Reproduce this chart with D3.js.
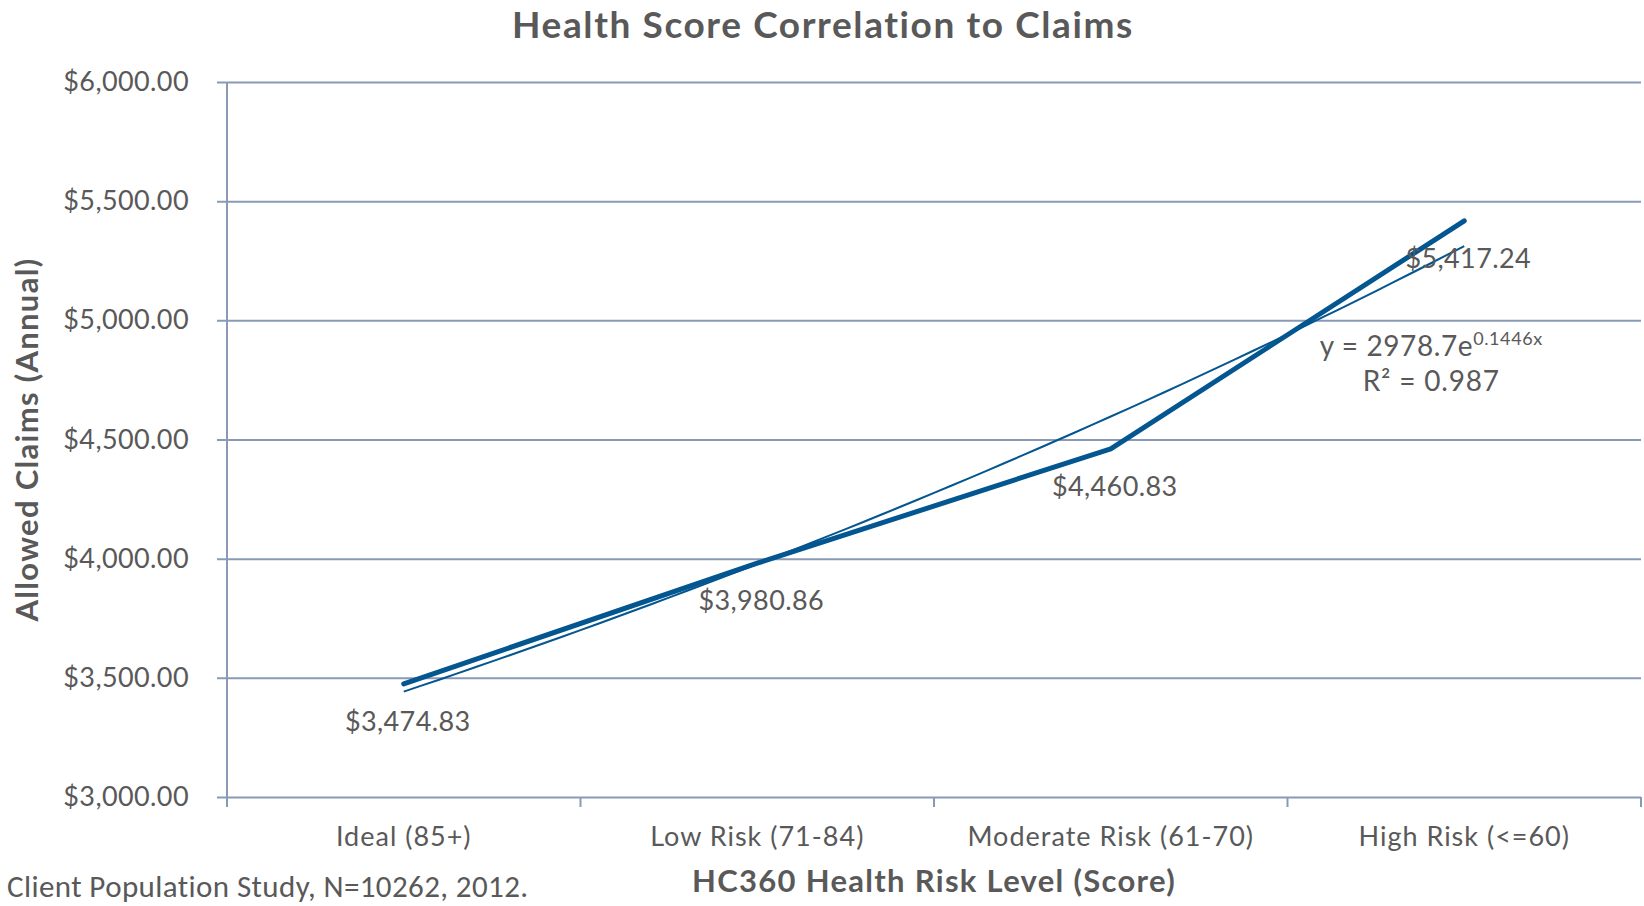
<!DOCTYPE html>
<html>
<head>
<meta charset="utf-8">
<script src="https://cdn.jsdelivr.net/npm/d3@7"></script>
<style>
  html, body { margin: 0; padding: 0; background: #fff; }
  svg text { fill: #595959; font-family: "Gill Sans", "Gill Sans MT", Lato, sans-serif; }
</style>
</head>
<body>
<svg id="chart" width="1644" height="906"></svg>
<script>
var categories = ['Ideal (85+)', 'Low Risk (71-84)', 'Moderate Risk (61-70)', 'High Risk (<=60)'];
var claims = [3474.83, 3980.86, 4460.83, 5417.24];
var yTicks = [3000, 3500, 4000, 4500, 5000, 5500, 6000];
// exponential trendline as printed on the chart: y = a * e^(b * x), x = 1..n
var trendA = 2978.7;
var trendB = 0.1446;
var trendLabel = ['y = 2978.7e', '0.1446x'];
var r2Label = 'R\u00b2 = 0.987';

var W = 1644, H = 906;
var margin = { top: 82, right: 3, bottom: 109, left: 227 };
var width = W - margin.left - margin.right;
var height = H - margin.top - margin.bottom;

var LINE = '#03568f';
var GRID = '#8a9ab6';

var svg = d3.select('#chart');
var g = svg.append('g').attr('transform', 'translate(' + margin.left + ',' + margin.top + ')');

var x = d3.scaleBand().domain(categories).range([0, width]).padding(0);
var y = d3.scaleLinear().domain([3000, 6000]).range([height, 0]);
var money = d3.format('$,.2f');

// y axis with gridlines
var yAxis = d3.axisLeft(y).tickValues(yTicks).tickFormat(money).tickSize(0).tickPadding(38);
var gy = g.append('g').call(yAxis);
gy.select('.domain').remove();
gy.selectAll('.tick line')
  .attr('x1', -10).attr('x2', width)
  .attr('stroke', GRID).attr('stroke-width', 2);
gy.selectAll('.tick text')
  .style('font-size', '27px').style('letter-spacing', '0.4px').attr('fill', '#595959');

// vertical axis line
g.append('line')
  .attr('x1', 0).attr('x2', 0).attr('y1', 0).attr('y2', height + 10)
  .attr('stroke', GRID).attr('stroke-width', 2);

// x axis: labels at band centres, ticks at band edges
var xAxis = d3.axisBottom(x).tickSize(0).tickPadding(30);
var gx = g.append('g').attr('transform', 'translate(0,' + height + ')').call(xAxis);
gx.select('.domain').remove();
gx.selectAll('.tick text')
  .style('font-size', '27px').style('letter-spacing', '1px').attr('fill', '#595959');
var edges = categories.map(function (c) { return x(c); }).concat([width]);
gx.selectAll('.edge').data(edges).enter().append('line')
  .attr('class', 'edge')
  .attr('x1', function (d) { return d; }).attr('x2', function (d) { return d; })
  .attr('y1', 0).attr('y2', 10)
  .attr('stroke', GRID).attr('stroke-width', 2);

function cx(i) { return x(categories[i]) + x.bandwidth() / 2; }

// trendline
var trendPts = d3.range(0, 3.001, 0.05).map(function (t) {
  var xv = t + 1;
  return [cx(0) + t * x.step(), y(trendA * Math.exp(trendB * xv))];
});
g.append('path')
  .attr('d', d3.line()(trendPts))
  .attr('fill', 'none').attr('stroke', LINE).attr('stroke-width', 2);

// data line
var line = d3.line()
  .x(function (d, i) { return cx(i); })
  .y(function (d) { return y(d); });
g.append('path')
  .datum(claims)
  .attr('d', line)
  .attr('fill', 'none').attr('stroke', LINE)
  .attr('stroke-width', 5).attr('stroke-linecap', 'round').attr('stroke-linejoin', 'round');

// data labels below points
g.selectAll('.dlabel').data(claims).enter().append('text')
  .attr('class', 'dlabel')
  .attr('x', function (d, i) { return cx(i) + 4; })
  .attr('y', function (d) { return y(d) + 47; })
  .attr('text-anchor', 'middle')
  .style('font-size', '27px').style('letter-spacing', '0.4px')
  .text(function (d) { return money(d); });

// trendline equation
var eqX = cx(3) - 33;
var eq = g.append('text')
  .attr('x', eqX).attr('y', y(4900) + 12)
  .attr('text-anchor', 'middle')
  .style('font-size', '28px').style('letter-spacing', '0.6px');
eq.append('tspan').text(trendLabel[0]);
eq.append('tspan').attr('dy', -11).style('font-size', '18px').text(trendLabel[1]);
g.append('text')
  .attr('x', eqX).attr('y', y(4900) + 47)
  .attr('text-anchor', 'middle')
  .style('font-size', '28px').style('letter-spacing', '0.8px')
  .text(r2Label);

// titles
svg.append('text')
  .attr('x', 823).attr('y', 38)
  .attr('text-anchor', 'middle')
  .style('font-size', '37px').style('font-weight', 'bold').style('letter-spacing', '1.6px')
  .text('Health Score Correlation to Claims');

svg.append('text')
  .attr('x', margin.left + width / 2).attr('y', 892)
  .attr('text-anchor', 'middle')
  .style('font-size', '31px').style('font-weight', 'bold').style('letter-spacing', '1.3px')
  .text('HC360 Health Risk Level (Score)');

svg.append('text')
  .attr('transform', 'translate(38,' + (margin.top + height / 2) + ') rotate(-90)')
  .attr('text-anchor', 'middle')
  .style('font-size', '31px').style('font-weight', 'bold').style('letter-spacing', '1.3px')
  .text('Allowed Claims (Annual)');

svg.append('text')
  .attr('x', 7).attr('y', 897)
  .style('font-family', 'Calibri, Carlito, "Open Sans", sans-serif')
  .style('font-size', '31px').style('letter-spacing', '0.4px')
  .text('Client Population Study, N=10262, 2012.');
</script>
</body>
</html>
